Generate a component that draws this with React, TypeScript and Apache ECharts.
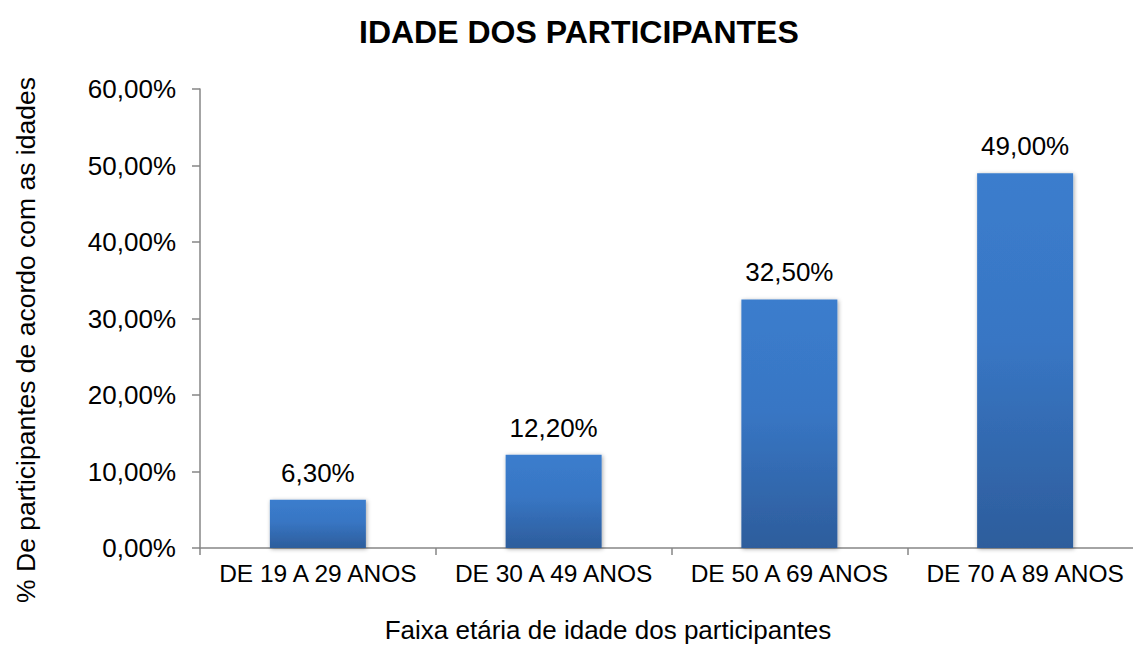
import React, { useEffect, useRef } from "react";
import * as echarts from "echarts";

const titleText = "IDADE DOS PARTICIPANTES";
const yAxisTitle = "% De participantes de acordo com as idades";
const xAxisTitle = "Faixa etária de idade dos participantes";
const categories = ["DE 19 A 29 ANOS", "DE 30 A 49 ANOS", "DE 50 A 69 ANOS", "DE 70 A 89 ANOS"];
const values = [6.3, 12.2, 32.5, 49.0];
const yMin = 0;
const yMax = 60;
const yInterval = 10;

const FONT = "'Liberation Sans', Arial, sans-serif";
const fmt = (v: number) => v.toFixed(2).replace(".", ",") + "%";

export default function App() {
  const ref = useRef<HTMLDivElement>(null);
  useEffect(() => {
    if (!ref.current) return;
    const chart = echarts.init(ref.current, null, { renderer: "svg" });
    chart.setOption({
      animation: false,
      backgroundColor: "#ffffff",
      textStyle: { fontFamily: FONT },
      title: {
        text: titleText,
        left: 354,
        top: 11,
        textStyle: { fontFamily: FONT, fontSize: 32, fontWeight: "bold", color: "#000" },
      },
      grid: { left: 200, right: -10, top: 89, bottom: 97, containLabel: false, outerBoundsMode: "none" },
      xAxis: {
        type: "category",
        data: categories,
        axisLine: { show: true, lineStyle: { color: "#868686", width: 1.5 } },
        axisTick: { show: true, length: 7, alignWithLabel: false, lineStyle: { color: "#868686", width: 1.5 } },
        axisLabel: { color: "#000", fontSize: 24.5, fontFamily: FONT, margin: 13, interval: 0 },
        splitLine: { show: false },
      },
      yAxis: {
        type: "value",
        min: yMin,
        max: yMax,
        interval: yInterval,
        axisLine: { show: true, lineStyle: { color: "#868686", width: 1.5 } },
        axisTick: { show: true, length: 8, lineStyle: { color: "#868686", width: 1.5 } },
        axisLabel: { color: "#000", fontSize: 26, fontFamily: FONT, margin: 24, formatter: (v: number) => fmt(v) },
        splitLine: { show: false },
      },
      series: [
        {
          type: "bar",
          data: values,
          barWidth: 96,
          itemStyle: {
            color: new echarts.graphic.LinearGradient(0, 0, 0, 1, [
              { offset: 0, color: "#3b7dcd" },
              { offset: 0.45, color: "#3876c4" },
              { offset: 1, color: "#2d5d9c" },
            ]),
            shadowBlur: 4,
            shadowColor: "rgba(0,0,0,0.35)",
            shadowOffsetX: 1,
            shadowOffsetY: 1,
          },
          label: {
            show: true,
            position: "top",
            distance: 14,
            color: "#000",
            fontSize: 26,
            fontFamily: FONT,
            formatter: (p: any) => fmt(p.value),
          },
        },
      ],
      graphic: [
        {
          type: "text",
          x: 26,
          y: 340,
          rotation: Math.PI / 2,
          style: {
            text: yAxisTitle,
            font: `26.5px ${FONT}`,
            fill: "#000",
            textAlign: "center",
            textVerticalAlign: "middle",
          },
        },
        {
          type: "text",
          x: 608,
          y: 630,
          style: {
            text: xAxisTitle,
            font: `26px ${FONT}`,
            fill: "#000",
            textAlign: "center",
            textVerticalAlign: "middle",
          },
        },
      ],
    });
    return () => chart.dispose();
  }, []);
  return (
    <div
      ref={ref}
      style={{ position: "absolute", left: 0, top: 0, width: 1133, height: 645 }}
    />
  );
}
